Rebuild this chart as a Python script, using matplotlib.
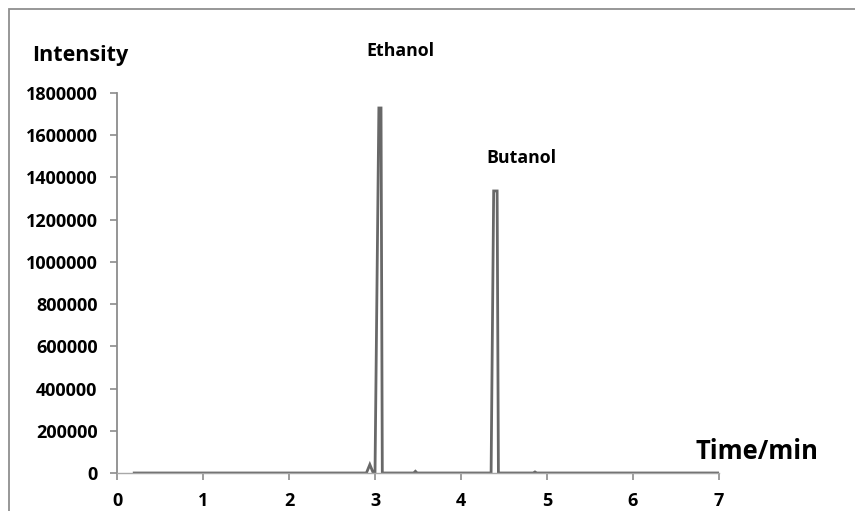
import matplotlib
matplotlib.use("Agg")
import matplotlib.pyplot as plt
from matplotlib.patches import Rectangle

# Chromatogram data (time in min, intensity)
time = [0.20, 0.60, 1.00, 1.60, 2.00, 2.50, 2.90, 2.94, 2.98,
        3.00, 3.045, 3.07, 3.085, 3.30, 3.45, 3.47, 3.49, 4.00,
        4.35, 4.38, 4.42, 4.435, 4.70, 4.84, 4.86, 4.88, 5.50, 6.20, 7.00]
intensity = [0, 0, 0, 0, 0, 0, 0, 40000, 0,
             0, 1729000, 1729000, 0, 0, 0, 8000, 0, 0,
             0, 1336000, 1336000, 0, 0, 0, 5000, 0, 0, 0, 0]

peak_names = ["Ethanol", "Butanol"]
peak_label_pos = [(3.29, 2000000), (4.70, 1490000)]

x_ticks = [0, 1, 2, 3, 4, 5, 6, 7]
y_ticks = [0, 200000, 400000, 600000, 800000, 1000000,
           1200000, 1400000, 1600000, 1800000]

FONT = ["Open Sans", "DejaVu Sans"]
plt.rcParams["font.family"] = FONT

fig = plt.figure(figsize=(8.55, 5.11), dpi=100)
ax = fig.add_axes([117/855, 1-473/511, (719-117)/855, (473-93)/511])

ax.plot(time, intensity, color="#686868", linewidth=2.0, solid_joinstyle="miter")

ax.set_xlim(0, 7)
ax.set_ylim(0, 1800000)
ax.set_xticks(x_ticks)
ax.set_yticks(y_ticks)
ax.set_xticklabels([str(v) for v in x_ticks], fontsize=13, fontweight="bold")
ax.set_yticklabels([str(v) for v in y_ticks], fontsize=13, fontweight="bold")

for s in ["top", "right"]:
    ax.spines[s].set_visible(False)
ax.spines["left"].set_color("#8c8c8c")
ax.spines["left"].set_linewidth(1.3)
ax.spines["bottom"].set_color("#a8a8a8")
ax.spines["bottom"].set_linewidth(1.0)
ax.tick_params(axis="y", direction="out", length=5, width=1.2, color="#8c8c8c", pad=9)
ax.tick_params(axis="x", direction="out", length=5, width=1.2, color="#8c8c8c", pad=9)
ax.set_facecolor("none")

for name, (px, py) in zip(peak_names, peak_label_pos):
    ax.text(px, py, name, ha="center", va="center", fontsize=12.8, fontweight="bold")

fig.text(80/855, 1-55/511, "Intensity", ha="center", va="center",
         fontsize=15.5, fontweight="bold")
fig.text(757/855, 1-451/511, "Time/min", ha="center", va="center",
         fontsize=18.4, fontweight="bold")

# chart-area border
fig.patches.append(Rectangle((9/855, -0.2), 1.5, 1.2 - 9/511,
                             transform=fig.transFigure, fill=False,
                             edgecolor="#8f8f8f", linewidth=1.3))

fig.savefig("out.png", dpi=100)
